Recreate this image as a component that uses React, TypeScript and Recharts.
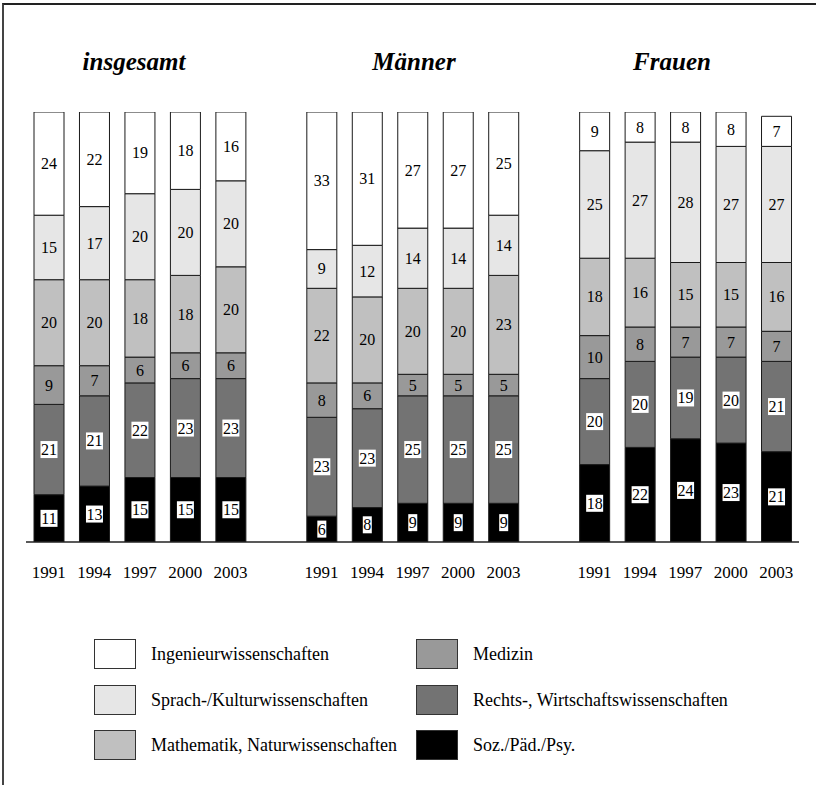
import React from "react";
import { BarChart, Bar, XAxis, YAxis, LabelList } from "recharts";

// Anteile der Studienfächer (%), Reihenfolge der Jahre wie unten
const years = ["1991", "1994", "1997", "2000", "2003"];
const groups = ["insgesamt", "Männer", "Frauen"];

const ingenieur = [
  [24, 22, 19, 18, 16],
  [33, 31, 27, 27, 25],
  [9, 8, 8, 8, 7],
];
const sprachKultur = [
  [15, 17, 20, 20, 20],
  [9, 12, 14, 14, 14],
  [25, 27, 28, 27, 27],
];
const mathNatur = [
  [20, 20, 18, 18, 20],
  [22, 20, 20, 20, 23],
  [18, 16, 15, 15, 16],
];
const medizin = [
  [9, 7, 6, 6, 6],
  [8, 6, 5, 5, 5],
  [10, 8, 7, 7, 7],
];
const rechtsWirtschaft = [
  [21, 21, 22, 23, 23],
  [23, 23, 25, 25, 25],
  [20, 20, 19, 20, 21],
];
const sozPaedPsy = [
  [11, 13, 15, 15, 15],
  [6, 8, 9, 9, 9],
  [18, 22, 24, 23, 21],
];

// bottom to top
const series = [
  { key: "soz", name: "Soz./Päd./Psy.", fill: "#000000", values: sozPaedPsy, boxed: true },
  { key: "recht", name: "Rechts-, Wirtschaftswissenschaften", fill: "#737373", values: rechtsWirtschaft, boxed: true },
  { key: "med", name: "Medizin", fill: "#999999", values: medizin, boxed: false },
  { key: "math", name: "Mathematik, Naturwissenschaften", fill: "#c0c0c0", values: mathNatur, boxed: false },
  { key: "sprach", name: "Sprach-/Kulturwissenschaften", fill: "#e6e6e6", values: sprachKultur, boxed: false },
  { key: "ing", name: "Ingenieurwissenschaften", fill: "#ffffff", values: ingenieur, boxed: false },
];

const legendLeft = ["ing", "sprach", "math"];
const legendRight = ["med", "recht", "soz"];

const data: any[] = [];
groups.forEach((g, gi) => {
  years.forEach((yr, yi) => {
    const row: any = { key: `${gi}-${yr}`, year: yr };
    series.forEach((s) => (row[s.key] = s.values[gi][yi]));
    data.push(row);
  });
  if (gi < groups.length - 1) data.push({ key: `gap${gi}`, year: "" });
});

const serif = '"Liberation Serif", Tinos, "Times New Roman", Times, "DejaVu Serif", serif';

function SegLabel(props: any) {
  const { value, boxed } = props;
  const vb = props.viewBox || {};
  const x = props.x ?? vb.x;
  const y = props.y ?? vb.y;
  const width = props.width ?? vb.width;
  const height = props.height ?? vb.height;
  if (value == null || x == null) return null;
  const cx = x + width / 2;
  const cy = y + height / 2;
  const txt = String(value);
  const w = txt.length * 8 + 1;
  return (
    <g>
      {boxed && <rect x={cx - w / 2} y={cy - 8.5} width={w} height={17} fill="#ffffff" />}
      <text x={cx} y={cy} dy={5.5} textAnchor="middle" fontSize={16} style={{ fontFamily: serif }} fill="#000">
        {txt}
      </text>
    </g>
  );
}

function YearTick(props: any) {
  const { x, y, payload } = props;
  const yr = String(payload.value).split("-")[1] || "";
  return (
    <text x={x} y={y + 36} textAnchor="middle" fontSize={17} style={{ fontFamily: serif }} fill="#000">
      {yr}
    </text>
  );
}

const titleX = [134, 414, 672];

function LegendItem({ s, left, top }: { s: any; left: number; top: number }) {
  return (
    <>
      <div
        style={{
          position: "absolute", left, top, width: 40, height: 28,
          background: s.fill, border: "1px solid #333",
        }}
      />
      <div
        style={{
          position: "absolute", left: left + 57, top: top + 15, transform: "translateY(-50%)",
          fontFamily: serif, fontSize: 18, whiteSpace: "nowrap", color: "#000",
        }}
      >
        {s.name}
      </div>
    </>
  );
}

export default function App() {
  const byKey = (k: string) => series.find((s) => s.key === k)!;
  return (
    <div style={{ position: "absolute", left: 0, top: 0, width: 817, height: 787, background: "#fff", overflow: "hidden" }}>
      <div
        style={{
          position: "absolute", left: 2, top: 3, width: 812, height: 780,
          borderTop: "2px solid #222", borderLeft: "2px solid #444",
        }}
      />
      {groups.map((g, i) => (
        <div
          key={g}
          style={{
            position: "absolute", left: titleX[i] - 100, width: 200, top: 48, textAlign: "center",
            fontFamily: serif, fontWeight: "bold", fontStyle: "italic", fontSize: 25, color: "#000",
          }}
        >
          {g}
        </div>
      ))}
      <div style={{ position: "absolute", left: 0, top: 0 }}>
        <BarChart width={817} height={600} data={data} margin={{ top: 112, right: 18, left: 26, bottom: 8 }}>
          <XAxis
            dataKey="key"
            interval={0}
            tickLine={false}
            tickSize={0}
            tickMargin={0}
            height={50}
            axisLine={{ stroke: "#222", strokeWidth: 1.5 }}
            tick={<YearTick />}
          />
          <YAxis hide domain={[0, 100]} allowDataOverflow />
          {series.map((s) => (
            <Bar
              key={s.key}
              dataKey={s.key}
              name={s.name}
              stackId="a"
              fill={s.fill}
              stroke="#1a1a1a"
              strokeWidth={1}
              barSize={30}
              isAnimationActive={false}
            >
              <LabelList dataKey={s.key} content={(p: any) => <SegLabel {...p} boxed={s.boxed} />} />
            </Bar>
          ))}
        </BarChart>
      </div>
      {legendLeft.map((k, i) => (
        <LegendItem key={k} s={byKey(k)} left={94} top={639 + i * 45.5} />
      ))}
      {legendRight.map((k, i) => (
        <LegendItem key={k} s={byKey(k)} left={416} top={639 + i * 45.5} />
      ))}
    </div>
  );
}
